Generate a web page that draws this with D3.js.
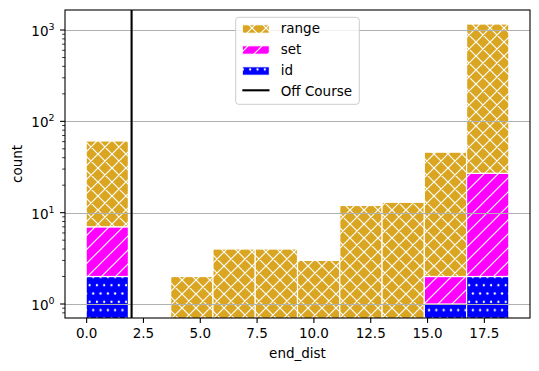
<!DOCTYPE html>
<html><head><meta charset="utf-8">
<script src="https://cdn.jsdelivr.net/npm/d3@7"></script>
<style>body{margin:0;background:#fff} text{font-family:"DejaVu Sans",sans-serif;fill:#000}</style>
</head><body><svg id="c" width="539" height="371"></svg>
<script>
// ---- data ----
const binEdges = [0, 1.86, 3.72, 5.58, 7.44, 9.3, 11.16, 13.02, 14.88, 16.74, 18.6];
const idCounts    = [2, 0, 0, 0, 0, 0, 0, 0, 1, 2];
const setCounts   = [5, 0, 0, 0, 0, 0, 0, 0, 1, 25];
const rangeCounts = [54, 0, 2, 4, 4, 3, 12, 13, 44, 1137];
const seriesNames = ["id", "set", "range"];
const legendNames = ["range", "set", "id", "Off Course"];
const offCourse = 2;
const xTicks = [0, 2.5, 5, 7.5, 10, 12.5, 15, 17.5];
const yTicks = [1, 10, 100, 1000];
const yTickExps = ["0", "1", "2", "3"];
const xLabel = "end_dist", yLabel = "count";

// ---- layout ----
const L = 65, R = 530, T = 10, B = 318;
const svg = d3.select("#c");
const x = d3.scaleLinear().domain([-0.93, 19.53]).range([L, R]);
const y = d3.scaleLog().domain([Math.pow(10, -0.1533), Math.pow(10, 3.2193)]).range([B, T]);
const fs = 13.5;

// ---- patterns ----
const defs = svg.append("defs");
const hw = 1.2;
function crossPat(id, bg) {
  const p = defs.append("pattern").attr("id", id).attr("patternUnits", "userSpaceOnUse")
    .attr("width", 14).attr("height", 14);
  p.append("rect").attr("width", 14).attr("height", 14).attr("fill", bg);
  p.append("path").attr("d", "M0,14 l14,-14 M-3.5,3.5 l7,-7 M10.5,17.5 l7,-7 M0,0 l14,14 M-3.5,10.5 l7,7 M10.5,-3.5 l7,7")
    .attr("stroke", "#fff").attr("stroke-width", hw);
}
function slashPat(id, bg) {
  const p = defs.append("pattern").attr("id", id).attr("patternUnits", "userSpaceOnUse")
    .attr("width", 14).attr("height", 14);
  p.append("rect").attr("width", 14).attr("height", 14).attr("fill", bg);
  p.append("path").attr("d", "M0,14 l14,-14 M-3.5,3.5 l7,-7 M10.5,17.5 l7,-7")
    .attr("stroke", "#fff").attr("stroke-width", hw);
}
function dotPat(id, bg) {
  const w = 7.3, h = 16.6, r = 1.15;
  const p = defs.append("pattern").attr("id", id).attr("patternUnits", "userSpaceOnUse")
    .attr("width", w).attr("height", h).attr("x", 2).attr("y", 3);
  p.append("rect").attr("width", w).attr("height", h).attr("fill", bg);
  [[0,0],[w,0],[0,h],[w,h],[w/2,h/2]].forEach(([cx,cy]) =>
    p.append("circle").attr("cx", cx).attr("cy", cy).attr("r", r).attr("fill", "#fff"));
}
crossPat("pRange", "#daa520");
slashPat("pSet", "#ff00ff");
dotPat("pId", "#0000ff");
const fills = {id: "url(#pId)", set: "url(#pSet)", range: "url(#pRange)"};
const seriesData = {id: idCounts, set: setCounts, range: rangeCounts};

defs.append("clipPath").attr("id", "clip").append("rect")
  .attr("x", L).attr("y", T).attr("width", R - L).attr("height", B - T);

// ---- bars ----
const gBars = svg.append("g").attr("clip-path", "url(#clip)");
const segs = [];
binEdges.slice(0, -1).forEach((e, i) => {
  let cum = 0;
  seriesNames.forEach(s => {
    const v = seriesData[s][i];
    if (v > 0) {
      segs.push({x0: e, x1: binEdges[i + 1], lo: cum, hi: cum + v, s});
      cum += v;
    }
  });
});
gBars.selectAll("rect").data(segs).join("rect")
  .attr("x", d => x(d.x0))
  .attr("width", d => x(d.x1) - x(d.x0))
  .attr("y", d => y(d.hi))
  .attr("height", d => (d.lo > 0 ? y(d.lo) : B + 2) - y(d.hi))
  .attr("fill", d => fills[d.s])
  .attr("stroke", "#fff").attr("stroke-width", 1.2);

// ---- grid ----
svg.append("g").selectAll("line").data(yTicks).join("line")
  .attr("x1", L).attr("x2", R)
  .attr("y1", d => Math.round(y(d)) + 0.5).attr("y2", d => Math.round(y(d)) + 0.5)
  .attr("stroke", "#b0b0b0").attr("stroke-width", 1.1);

// ---- off course line ----
svg.append("line").attr("x1", x(offCourse)).attr("x2", x(offCourse))
  .attr("y1", T).attr("y2", B).attr("stroke", "#000").attr("stroke-width", 2.1);

// ---- axes ----
const xa = svg.append("g").attr("transform", `translate(0,${B})`)
  .call(d3.axisBottom(x).tickValues(xTicks).tickFormat(d3.format(".1f")).tickSize(4.9).tickSizeOuter(0).tickPadding(6));
xa.select(".domain").remove();
xa.selectAll("line").attr("stroke-width", 1.1);
xa.selectAll("text").attr("font-size", fs).attr("font-family", "DejaVu Sans");

// minor y ticks
const minor = [];
[-1, 0, 1, 2, 3].forEach(p => { for (let k = 2; k <= 9; k++) { const v = k * Math.pow(10, p); if (v >= y.domain()[0] && v <= y.domain()[1]) minor.push(v); } });
svg.append("g").selectAll("line").data(minor).join("line")
  .attr("x1", L - 2.8).attr("x2", L).attr("y1", d => y(d)).attr("y2", d => y(d))
  .attr("stroke", "#000").attr("stroke-width", 0.8);
svg.append("g").selectAll("line").data(yTicks).join("line")
  .attr("x1", L - 4.9).attr("x2", L).attr("y1", d => y(d)).attr("y2", d => y(d))
  .attr("stroke", "#000").attr("stroke-width", 1.1);
const yl = svg.append("g").selectAll("text").data(yTicks).join("text")
  .attr("x", 54.5).attr("y", d => y(d) + 6).attr("text-anchor", "end").attr("font-size", fs);
yl.append("tspan").text("10");
yl.append("tspan").attr("font-size", fs * 0.7).attr("dy", -6).text((d, i) => yTickExps[i]);

// spines
svg.append("rect").attr("x", L).attr("y", T).attr("width", R - L).attr("height", B - T)
  .attr("fill", "none").attr("stroke", "#000").attr("stroke-width", 1.1);

// labels
svg.append("text").attr("x", (L + R) / 2).attr("y", 358).attr("text-anchor", "middle")
  .attr("font-size", fs).text(xLabel);
svg.append("text").attr("transform", `translate(21.5,${(T + B) / 2}) rotate(-90)`)
  .attr("text-anchor", "middle").attr("font-size", fs).text(yLabel);

// ---- legend ----
const lg = svg.append("g");
lg.append("rect").attr("x", 235.7).attr("y", 17.3).attr("width", 123.6).attr("height", 87)
  .attr("rx", 3).attr("fill", "rgba(255,255,255,0.8)").attr("stroke", "#cccccc").attr("stroke-width", 1);
const legFill = {range: fills.range, set: fills.set, id: fills.id};
legendNames.forEach((n, i) => {
  const base = 33 + i * 21;
  if (n === "Off Course") {
    lg.append("line").attr("x1", 242.3).attr("x2", 269.5).attr("y1", base - 5.7).attr("y2", base - 5.7)
      .attr("stroke", "#000").attr("stroke-width", 2.1);
  } else {
    lg.append("rect").attr("x", 242.3).attr("y", base - 8.2).attr("width", 27).attr("height", 8.4)
      .attr("fill", legFill[n]).attr("stroke", "#fff").attr("stroke-width", 1);
  }
  lg.append("text").attr("x", 280.7).attr("y", base).attr("font-size", fs).text(n);
});
</script></body></html>
